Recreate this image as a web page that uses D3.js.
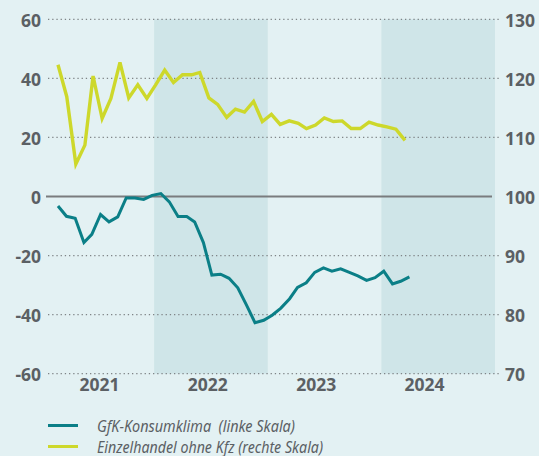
<!DOCTYPE html>
<html>
<head>
<meta charset="utf-8">
<script src="https://cdn.jsdelivr.net/npm/d3@7"></script>
<style>
  body { margin: 0; background: #e3f1f3; }
  svg { display: block; }
  .axis text { font-family: "Noto Sans", sans-serif; font-weight: 700; font-size: 17.5px; fill: #5b6064; }
  .legend text { font-family: "Noto Sans", sans-serif; font-style: italic; font-size: 15.5px; fill: #5b6064; white-space: pre; }
</style>
</head>
<body>
<svg width="539" height="456"></svg>
<script>
var years = ["2021", "2022", "2023", "2024"];
var shadedYears = ["2022", "2024"];
var leftTicks = [-60, -40, -20, 0, 20, 40, 60];
var rightTicks = [70, 80, 90, 100, 110, 120, 130];

// GfK-Konsumklima, Nov 2020 - Apr 2024 (linke Skala)
var gfkStart = new Date(2020, 10, 1);
var gfk = [-3.2, -6.7, -7.4, -15.6, -12.8, -6.1, -8.6, -6.9, -0.5, -0.5,
           -1.0, 0.4, 1.0, -1.8, -6.8, -6.8, -8.6, -15.6, -26.6, -26.3,
           -27.7, -30.9, -36.8, -42.7, -41.9, -40.2, -37.8, -34.6, -30.8, -29.2,
           -25.7, -24.2, -25.3, -24.5, -25.7, -26.9, -28.4, -27.5, -25.3, -29.6,
           -28.7, -27.2];

// Einzelhandel ohne Kfz, Nov 2020 - Feb 2024 (rechte Skala)
var retailStart = new Date(2020, 10, 1);
var retail = [122.3, 116.9, 105.5, 108.7, 120.4, 113.2, 116.6, 122.7, 116.7, 118.9,
              116.6, 118.9, 121.4, 119.3, 120.6, 120.6, 121.0, 116.7, 115.6, 113.4,
              114.8, 114.3, 116.1, 112.7, 113.9, 112.2, 112.8, 112.4, 111.5, 112.1,
              113.3, 112.7, 112.8, 111.5, 111.5, 112.6, 112.1, 111.8, 111.4, 109.5];

var legendItems = ["GfK-Konsumklima  (linke Skala)", "Einzelhandel ohne Kfz (rechte Skala)"];
var legendWidths = [198, 226];
var legendColors = ["#0b7f87", "#cdd82b"];

var svg = d3.select("svg"),
    width = +svg.attr("width"),
    height = +svg.attr("height");

svg.append("rect").attr("width", width).attr("height", height).attr("fill", "#e3f1f3");

var yLeft = d3.scaleLinear().domain([-60, 60]).range([373.7, 19.3]);
var yRight = d3.scaleLinear().domain([70, 130]).range([373.7, 19.3]);

var colScale = d3.scaleBand().domain(years).range([40.5, 495]).paddingInner(0);
var labelScale = d3.scalePoint().domain(years).range([99, 424]);

function monthsFrom(start, n) {
  return d3.range(n).map(function(i) { return d3.timeMonth.offset(start, i); });
}
var gfkDates = monthsFrom(gfkStart, gfk.length);
var retailDates = monthsFrom(retailStart, retail.length);

var xGfk = d3.scaleTime().domain(d3.extent(gfkDates)).range([58, 409.4]);
var xRetail = d3.scaleTime().domain(d3.extent(retailDates)).range([58, 405]);

// shaded year columns
svg.selectAll(".band")
    .data(shadedYears)
    .enter()
    .append("rect")
    .attr("class", "band")
    .attr("x", function(d) { return colScale(d); })
    .attr("width", colScale.bandwidth())
    .attr("y", yLeft(60))
    .attr("height", yLeft(-60) - yLeft(60))
    .attr("fill", "#cfe5e8");

// dotted grid
svg.selectAll(".grid")
    .data(leftTicks.filter(function(d) { return d !== 0; }))
    .enter()
    .append("line")
    .attr("x1", 48)
    .attr("x2", 499)
    .attr("y1", function(d) { return yLeft(d); })
    .attr("y2", function(d) { return yLeft(d); })
    .attr("stroke", "#7f8487")
    .attr("stroke-width", 1.3)
    .attr("stroke-dasharray", "1.3,2.9");

svg.append("line")
    .attr("x1", 46)
    .attr("x2", 492)
    .attr("y1", yLeft(0))
    .attr("y2", yLeft(0))
    .attr("stroke", "#7a7c7e")
    .attr("stroke-width", 2);

// axes
svg.append("g")
    .attr("class", "axis")
    .attr("transform", "translate(41,0)")
    .call(d3.axisLeft(yLeft).tickValues(leftTicks).tickSize(0).tickPadding(0)
      .tickFormat(function(d) { return String(d); }))
    .call(function(g) { g.select(".domain").remove(); });

svg.append("g")
    .attr("class", "axis")
    .attr("transform", "translate(505,0)")
    .call(d3.axisRight(yRight).tickValues(rightTicks).tickSize(0).tickPadding(0))
    .call(function(g) { g.select(".domain").remove(); });

svg.append("g")
    .attr("class", "axis")
    .attr("transform", "translate(0,384)")
    .call(d3.axisBottom(labelScale).tickSize(0).tickPadding(0))
    .call(function(g) { g.select(".domain").remove(); });

svg.selectAll(".axis text").attr("dy", null).attr("dominant-baseline", "central");

// lines
var gfkLine = d3.line()
    .x(function(d, i) { return xGfk(gfkDates[i]); })
    .y(function(d) { return yLeft(d); });

var retailLine = d3.line()
    .x(function(d, i) { return xRetail(retailDates[i]); })
    .y(function(d) { return yRight(d); });

svg.append("path")
    .datum(retail)
    .attr("d", retailLine)
    .attr("fill", "none")
    .attr("stroke", legendColors[1])
    .attr("stroke-width", 3.4);

svg.append("path")
    .datum(gfk)
    .attr("d", gfkLine)
    .attr("fill", "none")
    .attr("stroke", legendColors[0])
    .attr("stroke-width", 3);

// legend
var legend = svg.append("g").attr("class", "legend");
var rows = legend.selectAll("g")
    .data(legendItems)
    .enter()
    .append("g")
    .attr("transform", function(d, i) { return "translate(0," + (425.5 + i * 21) + ")"; });

rows.append("line")
    .attr("x1", 48).attr("x2", 78)
    .attr("stroke", function(d, i) { return legendColors[i]; })
    .attr("stroke-width", 3);

rows.append("text")
    .attr("x", 97)
    .attr("y", 0)
    .attr("dominant-baseline", "central")
    .attr("textLength", function(d, i) { return legendWidths[i]; })
    .attr("lengthAdjust", "spacingAndGlyphs")
    .text(function(d) { return d; });
</script>
</body>
</html>
